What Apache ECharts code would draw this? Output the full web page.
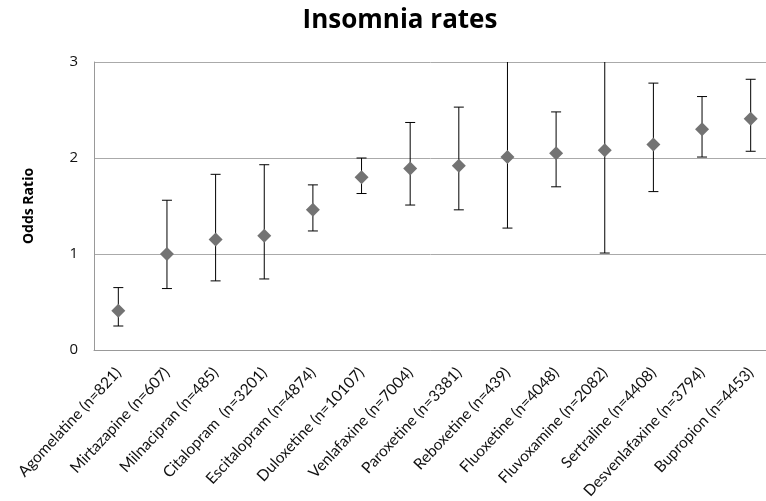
<!DOCTYPE html>
<html>
<head>
<meta charset="utf-8">
<script src="https://cdn.jsdelivr.net/npm/echarts@6/dist/echarts.min.js"></script>
<style>
  html, body { margin: 0; padding: 0; background: #fff; }
  #chart { width: 766px; height: 501px; }
</style>
</head>
<body>
<div id="chart"></div>
<script>
const drugs = [
    'Agomelatine (n=821)', 'Mirtazapine (n=607)', 'Milnacipran (n=485)', 'Citalopram  (n=3201)',
    'Escitalopram (n=4874)', 'Duloxetine (n=10107)', 'Venlafaxine (n=7004)', 'Paroxetine (n=3381)',
    'Reboxetine (n=439)', 'Fluoxetine (n=4048)', 'Fluvoxamine (n=2082)', 'Sertraline (n=4408)',
    'Desvenlafaxine (n=3794)', 'Bupropion (n=4453)'
];
const oddsRatio = [0.41, 1.00, 1.15, 1.19, 1.46, 1.80, 1.89, 1.92, 2.01, 2.05, 2.08, 2.14, 2.30, 2.41];
const lowerCI   = [0.25, 0.64, 0.72, 0.74, 1.24, 1.63, 1.51, 1.46, 1.27, 1.70, 1.01, 1.65, 2.01, 2.07];
// upper limits of Reboxetine and Fluvoxamine run off the top of the chart
const upperCI   = [0.65, 1.56, 1.83, 1.93, 1.72, 2.00, 2.37, 2.53, 3.18, 2.48, 4.28, 2.78, 2.64, 2.82];
const yTicks = [0, 1, 2, 3];

const chart = echarts.init(document.getElementById('chart'));

const errorData = drugs.map((d, i) => [i, lowerCI[i], upperCI[i]]);

chart.setOption({
    animation: false,
    title: {
        text: 'Insomnia rates',
        left: 395,
        textAlign: 'center',
        top: 3,
        textStyle: { fontFamily: 'Open Sans', fontWeight: 'bold', fontSize: 26, color: '#000' }
    },
    grid: { left: 94, right: -9, top: 62, bottom: 151, outerBoundsMode: 'none', containLabel: false },
    xAxis: {
        type: 'category',
        data: drugs,
        axisLine: { lineStyle: { color: '#999' } },
        axisTick: { show: false },
        axisLabel: {
            rotate: 47,
            interval: 0,
            margin: 20,
            fontFamily: 'Lato',
            fontSize: 15.5,
            color: '#111'
        }
    },
    yAxis: {
        type: 'value',
        min: yTicks[0],
        max: yTicks[yTicks.length - 1],
        interval: 1,
        name: 'Odds Ratio',
        nameLocation: 'middle',
        nameGap: 58,
        nameTextStyle: { fontFamily: 'Open Sans', fontWeight: 'bold', fontSize: 14, color: '#000' },
        axisLine: { show: true, lineStyle: { color: '#999' } },
        axisTick: { show: false },
        axisLabel: { fontFamily: 'Open Sans', fontSize: 15, color: '#111', margin: 16 },
        splitLine: { lineStyle: { color: '#aaa' } }
    },
    series: [
        {
            type: 'custom',
            clip: true,
            data: errorData,
            renderItem: function (params, api) {
                const x = api.value(0);
                const lo = api.coord([x, api.value(1)]);
                const hi = api.coord([x, api.value(2)]);
                const cap = 5;
                return {
                    type: 'group',
                    children: [
                        { type: 'line', shape: { x1: lo[0], y1: lo[1], x2: hi[0], y2: hi[1] }, style: { stroke: '#000', lineWidth: 1 } },
                        { type: 'line', shape: { x1: lo[0] - cap, y1: lo[1], x2: lo[0] + cap, y2: lo[1] }, style: { stroke: '#000', lineWidth: 1 } },
                        { type: 'line', shape: { x1: hi[0] - cap, y1: hi[1], x2: hi[0] + cap, y2: hi[1] }, style: { stroke: '#000', lineWidth: 1 } }
                    ]
                };
            },
            z: 2
        },
        {
            type: 'scatter',
            data: oddsRatio,
            symbol: 'diamond',
            symbolSize: 14,
            itemStyle: { color: '#737373', opacity: 1 },
            z: 3
        }
    ]
});
</script>
</body>
</html>
